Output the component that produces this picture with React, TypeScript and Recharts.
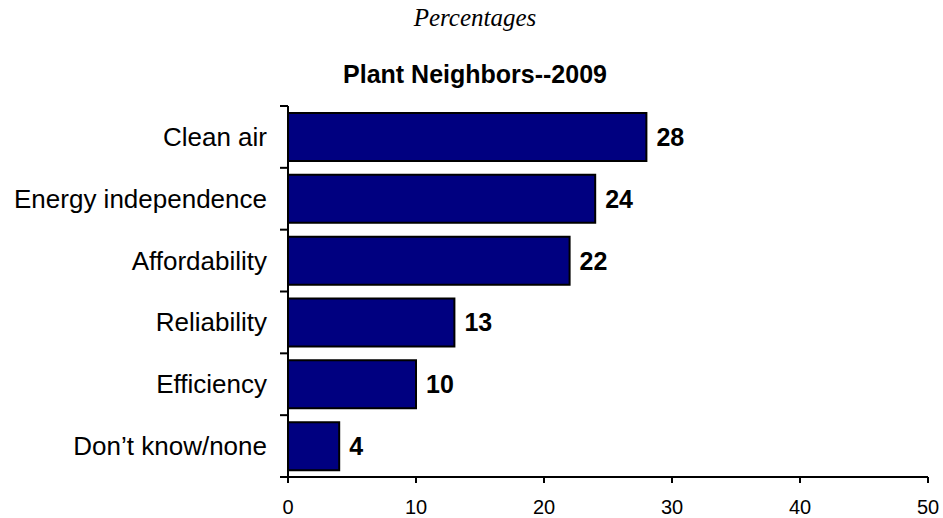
import React from "react";
import { BarChart, Bar, XAxis, YAxis, LabelList } from "recharts";

const categories = [
  "Clean air",
  "Energy independence",
  "Affordability",
  "Reliability",
  "Efficiency",
  "Don\u2019t know/none",
];
const values = [28, 24, 22, 13, 10, 4];
const xTicks = [0, 10, 20, 30, 40, 50];

const chartTitle = "Plant Neighbors--2009";
const subtitle = "Percentages";

const data = categories.map((name, i) => ({ name, value: values[i] }));

// the chart sits at the page's top-left corner, so no scrollbar appears
const W = 943;
const H = 518;
const MARGIN = { top: 106, right: 15, bottom: 0, left: 0 };
const Y_AXIS_W = 288;
const X_AXIS_H = 41;
const BAND = (H - MARGIN.top - MARGIN.bottom - X_AXIS_H) / categories.length;

function CategoryTick(props: any) {
  const { x, y, payload, index } = props;
  const axisX = MARGIN.left + Y_AXIS_W;
  const last = index === categories.length - 1;
  return (
    <g>
      <text
        x={x}
        y={y}
        textAnchor="end"
        dominantBaseline="central"
        fontSize={26}
        fill="#000"
        fontFamily="'Liberation Sans', Arial, sans-serif"
      >
        {payload.value}
      </text>
      <line x1={axisX - 8} x2={axisX} y1={y - BAND / 2} y2={y - BAND / 2} stroke="#000" strokeWidth={2} />
      {last && (
        <line x1={axisX - 8} x2={axisX} y1={y + BAND / 2} y2={y + BAND / 2} stroke="#000" strokeWidth={2} />
      )}
    </g>
  );
}

export default function App() {
  return (
    <div
      style={{
        position: "absolute",
        left: 0,
        top: 0,
        width: W,
        height: H,
        fontFamily: "'Liberation Sans', Arial, sans-serif",
      }}
    >
      <BarChart width={W} height={H} data={data} layout="vertical" margin={MARGIN}>
        <XAxis
          type="number"
          domain={[0, 50]}
          ticks={xTicks}
          height={X_AXIS_H}
          axisLine={{ stroke: "#000", strokeWidth: 2 }}
          tickLine={{ stroke: "#000", strokeWidth: 2 }}
          tickSize={6}
          tickMargin={17}
          tick={{ fill: "#000", fontSize: 20 }}
        />
        <YAxis
          type="category"
          dataKey="name"
          width={Y_AXIS_W}
          axisLine={{ stroke: "#000", strokeWidth: 2 }}
          tickLine={false}
          tickSize={8}
          tickMargin={13}
          tick={<CategoryTick />}
          interval={0}
        />
        <Bar dataKey="value" fill="#000080" stroke="#000" strokeWidth={2} barSize={48} isAnimationActive={false}>
          <LabelList
            dataKey="value"
            position="right"
            offset={10}
            style={{ fontWeight: "bold", fontSize: 25, fill: "#000" }}
          />
        </Bar>
      </BarChart>
      <svg width={W} height={MARGIN.top} style={{ position: "absolute", left: 0, top: 0, pointerEvents: "none" }}>
        <text
          x={475}
          y={26}
          textAnchor="middle"
          fontSize={25}
          fontStyle="italic"
          fontFamily="'Liberation Serif', 'DejaVu Serif', serif"
          fill="#000"
        >
          {subtitle}
        </text>
        <text
          x={475}
          y={83}
          textAnchor="middle"
          fontSize={25}
          fontWeight="bold"
          fontFamily="'Liberation Sans', Arial, sans-serif"
          fill="#000"
        >
          {chartTitle}
        </text>
      </svg>
    </div>
  );
}
